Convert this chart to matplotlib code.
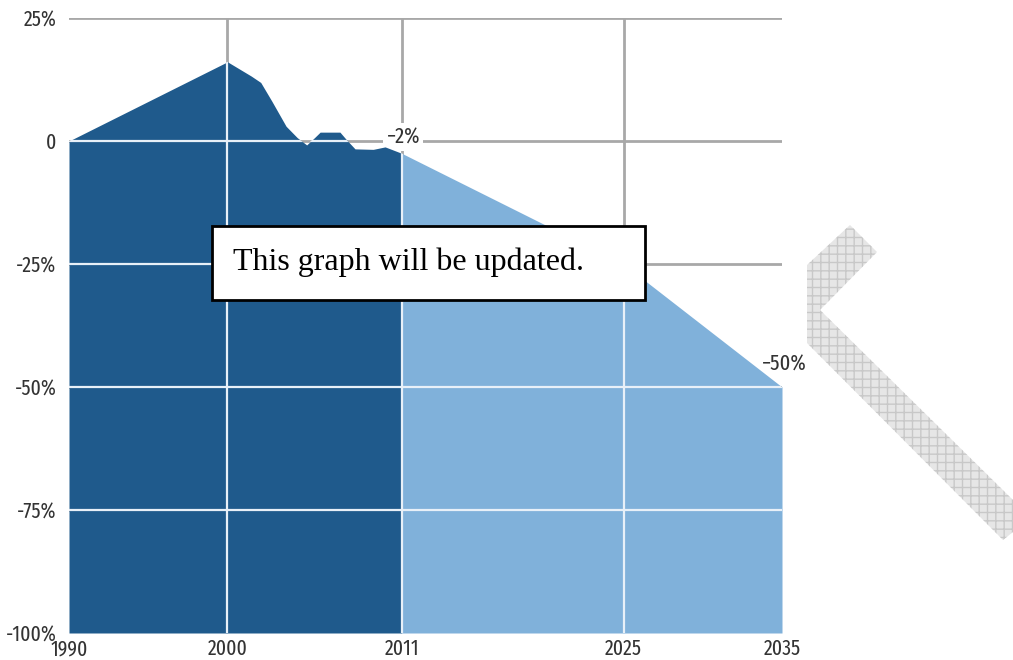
import numpy as np
import matplotlib
matplotlib.use("Agg")
import matplotlib.pyplot as plt
from matplotlib import font_manager
from matplotlib.patches import Polygon, Rectangle

# data (percent change vs 1990)
hist_years = [1990, 2000, 2001.5, 2002.1, 2002.8, 2003.7, 2004.4, 2005.0, 2005.5,
              2005.85, 2007.1, 2007.5, 2008.05, 2009.2, 2009.95, 2011]
hist_vals = [0, 16.1, 13.2, 11.9, 8.1, 3.0, 0.7, -0.8, 0.7,
             1.8, 1.8, 0.3, -1.6, -1.7, -1.2, -2.5]
proj_years = [2011, 2025, 2035]
proj_vals = [-2.5, -25, -50]

xticks = [1990, 2000, 2011, 2025, 2035]
yticks = [25, 0, -25, -50, -75, -100]
ytick_labels = ['25%', '0', '-25%', '-50%', '-75%', '-100%']
grid_x = [2000, 2011, 2025]
grid_y = [25, 0, -25, -50, -75]

dark = '#1f5a8c'
light = '#80b1da'
gray = '#a8a8a8'


# the original labels use a condensed sans; take the narrowest regular one found
def pick_label_font():
    best = None
    for f in font_manager.fontManager.ttflist:
        fn = f.fname.lower().split('/')[-1]
        if f.weight not in (400, 'normal', 'regular'):
            continue
        if any(k in fn for k in ('bold', 'italic', 'oblique', 'light', 'thin',
                                 'medium', 'black', 'mono', 'serif')):
            continue
        if 'extracondensed' in fn:
            rank = 0
        elif 'semicondensed' in fn:
            rank = 2
        elif 'condensed' in fn or 'narrow' in fn:
            rank = 1
        else:
            continue
        if best is None or rank < best[0]:
            best = (rank, f.fname)
    if best is None:
        return font_manager.FontProperties(family='Liberation Sans'), 13
    size = {0: 15.5, 1: 14, 2: 13.5}[best[0]]
    return font_manager.FontProperties(fname=best[1]), size


lab_prop, lab_size = pick_label_font()

W, H = 1013, 660
fig = plt.figure(figsize=(W / 100, H / 100), dpi=100)
ax = fig.add_axes([69 / W, 1 - 633 / H, (782 - 69) / W, (633 - 18) / H])
ax.set_xlim(1990, 2035)
ax.set_ylim(-100, 25)

# gray grid behind the areas
for gy in grid_y:
    ax.axhline(gy, color=gray, lw=2, zorder=0)
for gx in grid_x:
    ax.axvline(gx, color=gray, lw=2, zorder=0)

ax.fill_between(hist_years, hist_vals, -100, color=dark, lw=0, zorder=1)
ax.fill_between(proj_years, proj_vals, -100, color=light, lw=0, zorder=1)

# white grid lines only where they sit on the filled area
area = Polygon(list(zip(hist_years + proj_years[1:], hist_vals + proj_vals[1:]))
               + [(2035, -100), (1990, -100)], closed=True,
               transform=ax.transData)
for gy in grid_y:
    ln = ax.axhline(gy, color='#e8f0f8', lw=1.6, zorder=2)
    ln.set_clip_path(area)
for gx in grid_x:
    ln = ax.axvline(gx, color='#e8f0f8', lw=1.6, zorder=2)
    ln.set_clip_path(area)

# -2% label sits under the fill so its white backing only breaks the gray grid
t1 = ax.text(2011.1, 0.8, '\u22122%', ha='center', va='center',
             color='#333333', zorder=0.5,
             bbox=dict(facecolor='white', edgecolor='none', pad=1.5))
t2 = ax.text(2033.75, -45.3, '\u221250%', ha='left', va='center',
             color='#333333', zorder=3, clip_on=False)
for t in (t1, t2):
    t.set_fontproperties(lab_prop)
    t.set_fontsize(lab_size + 0.5)

for s in ax.spines.values():
    s.set_visible(False)
ax.set_xticks(xticks)
ax.set_xticklabels([str(x) for x in xticks])
ax.set_yticks(yticks)
ax.set_yticklabels(ytick_labels)
ax.tick_params(length=0, colors='#333333')
ax.tick_params(axis='y', pad=9)
ax.tick_params(axis='x', pad=4)
for t in ax.get_xticklabels() + ax.get_yticklabels():
    t.set_fontproperties(lab_prop)
    t.set_fontsize(lab_size)

# note box
fig.patches.append(Rectangle((212 / W, 1 - 300 / H), (645 - 212) / W, 74 / H,
                             transform=fig.transFigure, facecolor='white',
                             edgecolor='black', lw=2, zorder=5))
fig.text(233 / W, 1 - 262 / H, 'This graph will be updated.',
         family='Liberation Serif', fontsize=23, va='center', ha='left', zorder=6)

# white backing of the pasted shape, it hides the end of the -50% label
fig.patches.append(Rectangle((807 / W, 1 - 560 / H), (W - 807) / W, 360 / H,
                             transform=fig.transFigure, facecolor='white',
                             edgecolor='none', zorder=3))

# hatched chevron shape on the right
chev_px = [(850, 225), (877, 252), (820, 310), (1013, 500), (1013, 532),
           (1003, 540), (807, 343), (807, 265)]
chev = Polygon([(x / W, 1 - y / H) for x, y in chev_px], closed=True,
               transform=fig.transFigure, facecolor='#e6e6e6',
               edgecolor='#c8c8c8', lw=0, hatch='++', zorder=4)
fig.patches.append(chev)

fig.savefig('out.png', dpi=100)
